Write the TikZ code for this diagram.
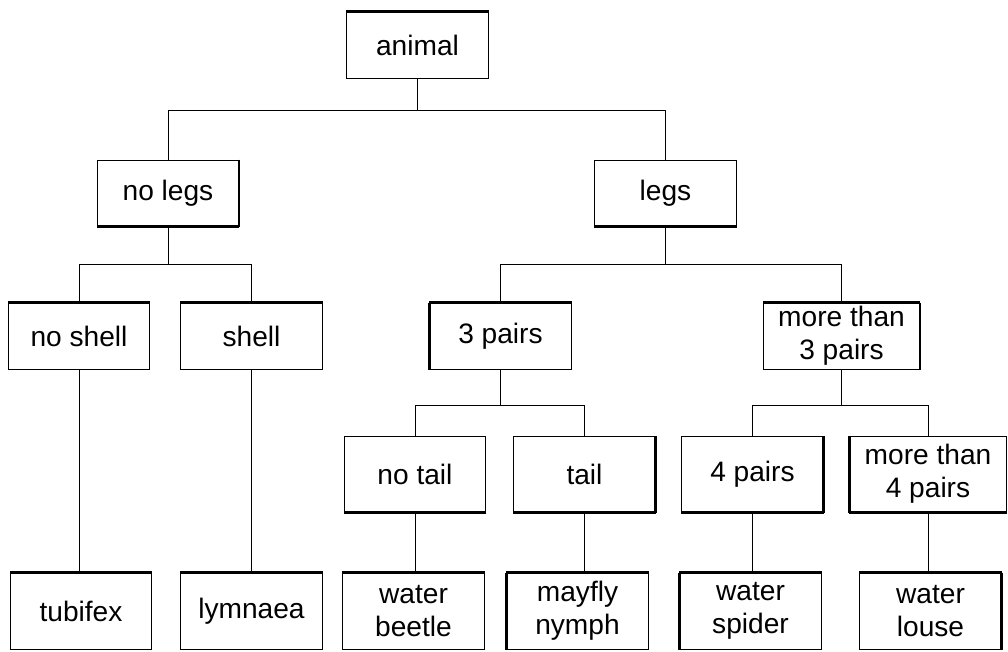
\documentclass[tikz,border=0pt]{standalone}
\usepackage{fontspec}
\setmainfont{Liberation Sans}

\begin{document}
\begin{tikzpicture}[x=0.025cm, y=-0.025cm,
        box/.style={draw, line width=0.7pt, align=center, inner sep=0pt,
            minimum width=3.525cm, minimum height=1.65cm,
            font=\fontsize{20}{23.5}\selectfont},
        tall/.style={box, minimum height=1.9cm},
        wide/.style={minimum width=3.9cm},
        link/.style={line width=0.7pt},
        rim/.style={line width=2.1pt}]
        \useasboundingbox (0,0) rectangle (1008,652);

        \node[box](animal) at (417.5, 45) {animal};
        \node[box](nolegs) at (168, 193) {no legs};
        \node[box](legs) at (665.5, 193) {legs};
        \node[box](noshell) at (79, 336) {no shell};
        \node[box](shell) at (251.5, 336) {shell};
        \node[box](threepairs) at (500.5, 336) {3 pairs};
        \node[box, wide](morethree) at (841.5, 336) {more than\\3 pairs};
        \node[tall](notail) at (415, 474) {no tail};
        \node[tall](tail) at (584.5, 474) {tail};
        \node[tall](fourpairs) at (752.5, 474) {4 pairs};
        \node[tall, wide](morefour) at (928, 474) {more than\\4 pairs};
        \node[tall](tubifex) at (81, 611) {tubifex};
        \node[tall](lymnaea) at (251.5, 611) {lymnaea};
        \node[tall](beetle) at (413.5, 611) {water\\beetle};
        \node[tall](mayfly) at (577.5, 611) {mayfly\\nymph};
        \node[tall](spider) at (750.5, 611) {water\\spider};
        \node[tall](louse) at (930.5, 611) {water\\louse};

        \coordinate (bus1) at (0, 110);
        \coordinate (bus2) at (0, 264);
        \coordinate (bus3) at (0, 405);

        \foreach \p/\c/\b in {animal/nolegs/bus1, animal/legs/bus1,
            nolegs/noshell/bus2, nolegs/shell/bus2,
            legs/threepairs/bus2, legs/morethree/bus2,
            threepairs/notail/bus3, threepairs/tail/bus3,
            morethree/fourpairs/bus3, morethree/morefour/bus3}
            \draw[link] (\p.south) -- (\p.south |- \b) -| (\c.north);

        \foreach \p/\c in {noshell/tubifex, shell/lymnaea, notail/beetle,
            tail/mayfly, fourpairs/spider, morefour/louse}
            \draw[link] (\p.south) -- (\p.south |- \c.north);

        % heavier box edges
        \foreach \n/\a/\b in {animal/north west/north east,
            nolegs/north east/south east, nolegs/south west/south east,
            legs/south west/south east,
            noshell/north west/north east, shell/north west/north east,
            threepairs/north west/north east, threepairs/north west/south west,
            morethree/north west/north east, morethree/north east/south east,
            notail/south west/south east,
            tail/north east/south east, tail/south west/south east,
            fourpairs/north east/south east, fourpairs/south west/south east,
            morefour/north west/south west, morefour/south west/south east,
            tubifex/north west/north east, lymnaea/north west/north east,
            beetle/north west/north east,
            mayfly/north west/north east, mayfly/north west/south west,
            spider/north west/north east, spider/north west/south west,
            louse/north west/north east, louse/north east/south east}
            \draw[rim] (\n.\a) -- (\n.\b);
    \end{tikzpicture}
\end{document}
